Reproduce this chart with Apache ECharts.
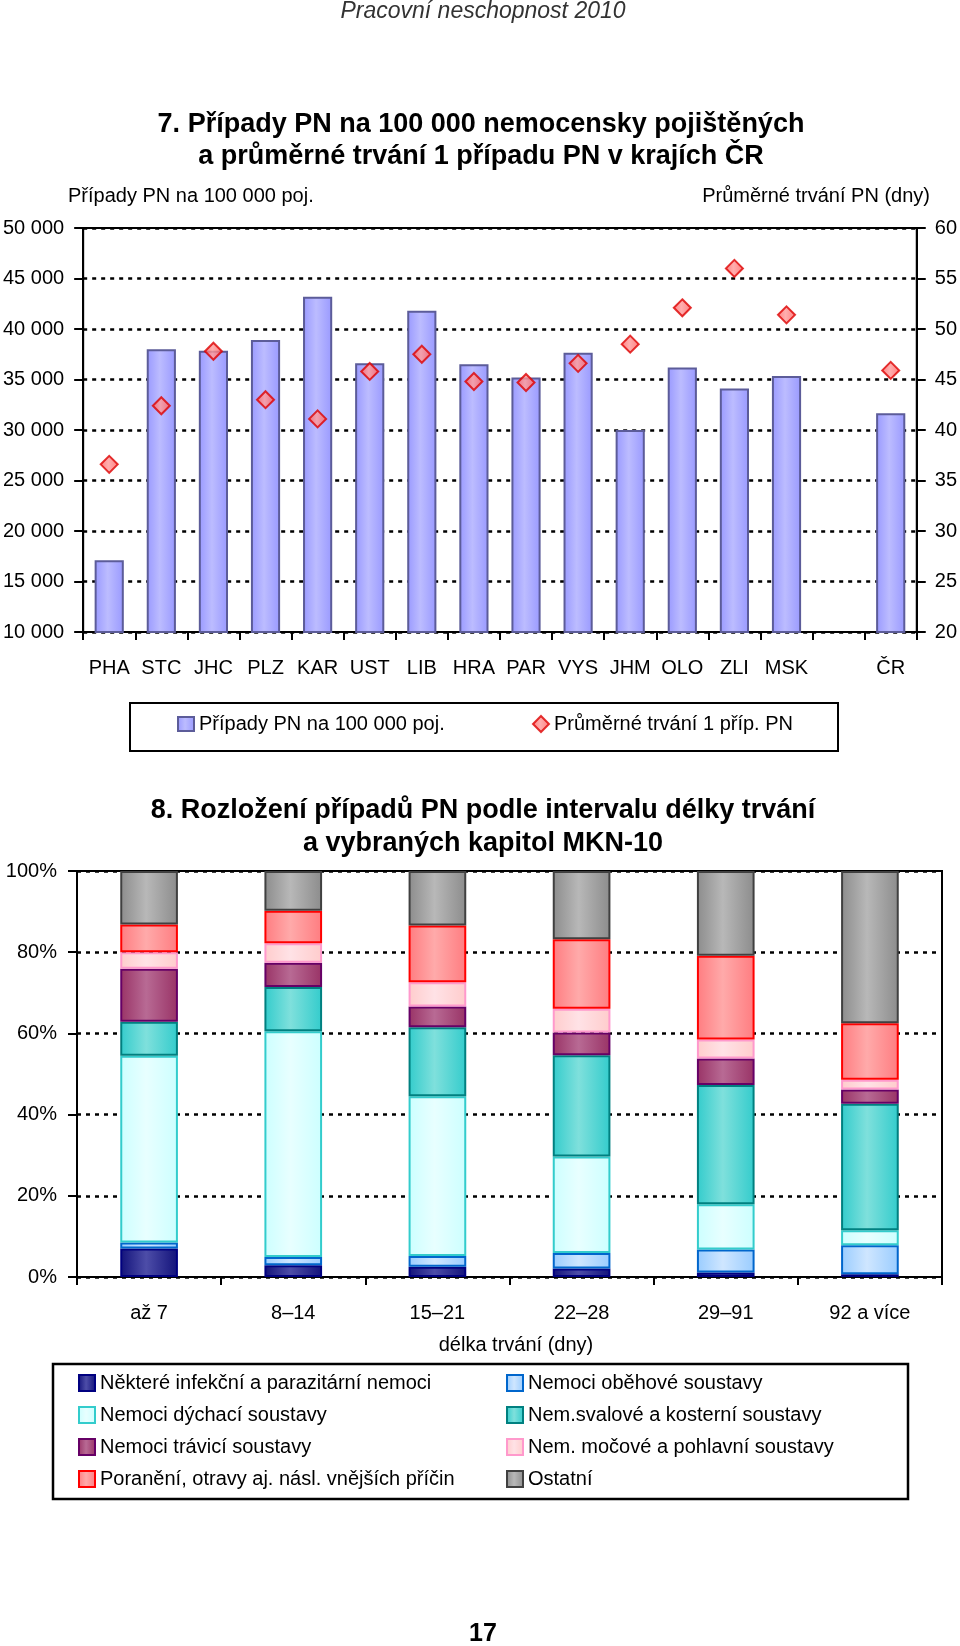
<!DOCTYPE html>
<html>
<head>
<meta charset="utf-8">
<script src="https://cdn.jsdelivr.net/npm/echarts@6/dist/echarts.min.js"></script>
<style>
html,body{margin:0;padding:0;background:#fff;}
#main{width:960px;height:1646px;}
</style>
</head>
<body>
<div id="main"></div>
<script>
// ---------- DATA: chart 7 ----------
const regions = ['PHA','STC','JHC','PLZ','KAR','UST','LIB','HRA','PAR','VYS','JHM','OLO','ZLI','MSK','','ČR'];
const casesPer100k = [17100, 38000, 37850, 38900, 43200, 36600, 41800, 36500, 35200, 37650, 30000, 36200, 34100, 35350, null, 31650];
const avgDuration = [36.6, 42.4, 47.8, 43.0, 41.1, 45.8, 47.5, 44.8, 44.7, 46.6, 48.5, 52.1, 56.0, 51.4, null, 45.9];

// ---------- DATA: chart 8 (percent shares) ----------
const durationIntervals = ['až 7','8–14','15–21','22–28','29–91','92 a více'];
const infekcni = [7.0, 2.9, 2.5, 2.1, 1.1, 0.7];
const obehove  = [1.5, 2.0, 2.7, 3.8, 5.7, 7.1];
const dychaci  = [46.0, 55.6, 39.3, 23.8, 11.1, 3.7];
const svalove  = [8.4, 10.9, 17.0, 24.9, 29.4, 31.2];
const travici  = [13.0, 6.0, 5.1, 5.6, 6.5, 3.5];
const mocove   = [4.1, 4.8, 6.0, 5.9, 4.7, 2.4];
const poraneni = [6.8, 8.0, 14.0, 17.1, 20.6, 13.9];
const ostatni  = [13.2, 9.8, 13.4, 16.8, 20.9, 37.5];

const leftAxisTicks = {min: 10000, max: 50000, interval: 5000};
const rightAxisTicks = {min: 20, max: 60, interval: 5};
const pctAxisTicks = {min: 0, max: 100, interval: 20};

// ---------- font detection ----------
function fontAvailable(name){
  const c = document.createElement('canvas').getContext('2d');
  const s = 'PHA STC 50 000 Případy';
  c.font = '40px monospace'; const a = c.measureText(s).width;
  c.font = "40px '" + name + "', monospace"; const b = c.measureText(s).width;
  return a !== b;
}
const hasNarrow = fontAvailable('Liberation Sans Narrow');
const NF = hasNarrow ? "'Liberation Sans Narrow', 'Liberation Sans', sans-serif" : "'Liberation Sans', Arial, sans-serif";
const NS = hasNarrow ? 24 : 20;
const BF = "'Liberation Sans', Arial, sans-serif";

function grad(edge, mid){
  return {type:'linear', x:0, y:0, x2:1, y2:0, colorStops:[
    {offset:0, color:edge},{offset:0.45, color:mid},{offset:1, color:edge}]};
}
function fmtThousands(v){ return String(v).replace(/\B(?=(\d{3})+(?!\d))/g, ' '); }

const dashLine = {show:true, lineStyle:{color:'#000', type:[4,5], width:2.5}};
const axisLineBlack = {show:true, onZero:false, lineStyle:{color:'#000', width:2}};
const labelStyle = {color:'#000', fontFamily:NF, fontSize:NS};

const stackDefs = [
  ['Některé infekční a parazitární nemoci', infekcni, '#12127a', '#4d4da8', '#000080'],
  ['Nemoci oběhové soustavy', obehove, '#99ccff', '#cfe6ff', '#0066cc'],
  ['Nemoci dýchací soustavy', dychaci, '#ccffff', '#e8ffff', '#33cccc'],
  ['Nem.svalové a kosterní soustavy', svalove, '#33cccc', '#7fe0dc', '#008080'],
  ['Nemoci trávicí soustavy', travici, '#993366', '#b86a94', '#660066'],
  ['Nem. močové a pohlavní soustavy', mocove, '#ffcccc', '#ffe2e6', '#ff99cc'],
  ['Poranění, otravy aj. násl. vnějších příčin', poraneni, '#ff7c80', '#ffaaaa', '#ff0000'],
  ['Ostatní', ostatni, '#8c8c8c', '#b8b8b8', '#404040']
];

const stackSeries = stackDefs.map(d => ({
  name: d[0], type:'bar', stack:'pct', xAxisIndex:1, yAxisIndex:2,
  data: d[1], barCategoryGap:'60%',
  itemStyle:{color:grad(d[2], d[3]), borderColor:d[4], borderWidth:2}
}));

const chart = echarts.init(document.getElementById('main'), null, {renderer:'canvas'});
chart.setOption({
  animation:false,
  backgroundColor:'#fff',
  textStyle:{fontFamily:NF},
  title:[
    {text:'Pracovní neschopnost 2010', left:483, top:0, padding:0, textAlign:'center',
     textStyle:{fontFamily:NF, fontStyle:'italic', fontWeight:'normal', fontSize:23, lineHeight:24, color:'#333'}},
    {text:'7. Případy PN na 100 000 nemocensky pojištěných\na průměrné trvání 1 případu PN v krajích ČR',
     left:481, top:109, padding:0, textAlign:'center',
     textStyle:{fontFamily:BF, fontWeight:'bold', fontSize:27, lineHeight:32, color:'#000'}},
    {text:'Případy PN na 100 000 poj.', left:68, top:184, padding:0,
     textStyle:{fontFamily:NF, fontWeight:'normal', fontSize:NS, lineHeight:24, color:'#000'}},
    {text:'Průměrné trvání PN (dny)', left:930, top:184, padding:0, textAlign:'right',
     textStyle:{fontFamily:NF, fontWeight:'normal', fontSize:NS, lineHeight:24, color:'#000'}},
    {text:'8. Rozložení případů PN podle intervalu délky trvání\na vybraných kapitol MKN-10',
     left:483, top:794, padding:0, textAlign:'center',
     textStyle:{fontFamily:BF, fontWeight:'bold', fontSize:27, lineHeight:33, color:'#000'}},
    {text:'17', left:483, top:1621, padding:0, textAlign:'center',
     textStyle:{fontFamily:BF, fontWeight:'bold', fontSize:25, lineHeight:26, color:'#000'}}
  ],
  legend:[
    {data:['Případy PN na 100 000 poj.'], left:177, top:712, padding:0, icon:'rect',
     itemWidth:16, itemHeight:14, itemGap:0, textStyle:{...labelStyle, lineHeight:24}},
    {data:['Průměrné trvání 1 příp. PN'], left:532, top:712, padding:0, icon:'diamond',
     itemWidth:16, itemHeight:16, itemGap:0, textStyle:{...labelStyle, lineHeight:24}},
    {data:[stackDefs[0][0], stackDefs[2][0], stackDefs[4][0], stackDefs[6][0]],
     orient:'vertical', left:78, top:1371, padding:0, icon:'rect', itemWidth:16, itemHeight:16, itemGap:8,
     textStyle:{...labelStyle, lineHeight:24}},
    {data:[stackDefs[1][0], stackDefs[3][0], stackDefs[5][0], stackDefs[7][0]],
     orient:'vertical', left:506, top:1371, padding:0, icon:'rect', itemWidth:16, itemHeight:16, itemGap:8,
     textStyle:{...labelStyle, lineHeight:24}}
  ],
  graphic:[
    {type:'rect', shape:{x:130, y:703, width:708, height:48}, style:{fill:'none', stroke:'#000', lineWidth:2}, silent:true},
    {type:'rect', shape:{x:53, y:1364, width:855, height:135}, style:{fill:'none', stroke:'#000', lineWidth:2.5}, silent:true}
  ],
  grid:[
    {left:80, top:228, width:837, height:404, show:true, borderColor:'#000', borderWidth:2, containLabel:false},
    {left:77, top:871, width:865, height:406, show:true, borderColor:'#000', borderWidth:2, containLabel:false}
  ],
  xAxis:[
    {type:'category', gridIndex:0, data:regions, boundaryGap:true,
     axisLine:axisLineBlack, axisTick:{show:true, length:8, lineStyle:{color:'#000', width:2}},
     axisLabel:{...labelStyle, interval:0, margin:26}, splitLine:{show:false}},
    {type:'category', gridIndex:1, data:durationIntervals, boundaryGap:true,
     name:'délka trvání (dny)', nameLocation:'middle', nameGap:58,
     nameTextStyle:{...labelStyle, padding:[0,0,0,13]},
     axisLine:axisLineBlack, axisTick:{show:true, length:8, lineStyle:{color:'#000', width:2}},
     axisLabel:{...labelStyle, interval:0, margin:26}, splitLine:{show:false}}
  ],
  yAxis:[
    {type:'value', gridIndex:0, position:'left', ...leftAxisTicks,
     axisLine:axisLineBlack, axisTick:{show:true, length:9, lineStyle:{color:'#000', width:2}},
     axisLabel:{...labelStyle, margin:19, formatter:fmtThousands}, splitLine:dashLine},
    {type:'value', gridIndex:0, position:'right', ...rightAxisTicks,
     axisLine:axisLineBlack, axisTick:{show:true, length:9, lineStyle:{color:'#000', width:2}},
     axisLabel:{...labelStyle, margin:18}, splitLine:{show:false}},
    {type:'value', gridIndex:1, position:'left', ...pctAxisTicks,
     axisLine:axisLineBlack, axisTick:{show:true, length:9, lineStyle:{color:'#000', width:2}},
     axisLabel:{...labelStyle, margin:20, formatter:'{value}%'}, splitLine:dashLine}
  ],
  series:[
    {name:'Případy PN na 100 000 poj.', type:'bar', xAxisIndex:0, yAxisIndex:0, data:casesPer100k,
     barCategoryGap:'44%',
     itemStyle:{color:grad('#9999ff', '#bcbcff'), borderColor:'#5c5c99', borderWidth:2}},
    {name:'Průměrné trvání 1 příp. PN', type:'scatter', xAxisIndex:0, yAxisIndex:1, data:avgDuration,
     symbol:'diamond', symbolSize:17, z:5,
     itemStyle:{color:grad('#ff6060', '#ff9a9a'), borderColor:'#dd0000', borderWidth:2}},
    ...stackSeries
  ]
});
</script>
</body>
</html>
